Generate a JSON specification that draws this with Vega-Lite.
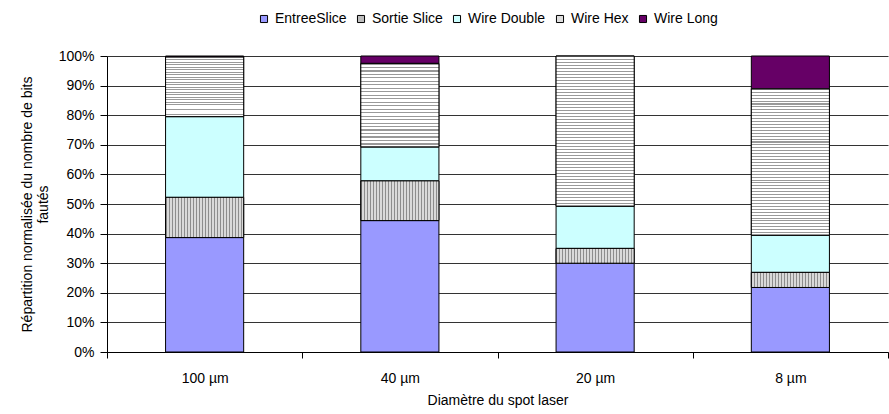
{
  "$schema": "https://vega.github.io/schema/vega-lite/v6.json",
  "width": 781,
  "height": 296,
  "padding": {"left": 20, "top": 12, "right": 0, "bottom": 5},
  "config": {
    "font": "Liberation Sans",
    "view": {"stroke": null},
    "axis": {"labelColor": "black", "titleColor": "black", "titleFontWeight": "normal", "labelFontSize": 14, "titleFontSize": 14, "domainColor": "black", "tickColor": "black"},
    "legend": {"labelColor": "black"}
  },
  "data": {
    "values": [
      {"cat": "100 µm", "series": "EntreeSlice", "v": 38.7},
      {"cat": "100 µm", "series": "Sortie Slice", "v": 13.6},
      {"cat": "100 µm", "series": "Wire Double", "v": 27.3},
      {"cat": "100 µm", "series": "Wire Hex", "v": 20.2},
      {"cat": "100 µm", "series": "Wire Long", "v": 0.3},
      {"cat": "40 µm", "series": "EntreeSlice", "v": 44.4},
      {"cat": "40 µm", "series": "Sortie Slice", "v": 13.4},
      {"cat": "40 µm", "series": "Wire Double", "v": 11.5},
      {"cat": "40 µm", "series": "Wire Hex", "v": 28.2},
      {"cat": "40 µm", "series": "Wire Long", "v": 2.5},
      {"cat": "20 µm", "series": "EntreeSlice", "v": 30.0},
      {"cat": "20 µm", "series": "Sortie Slice", "v": 5.0},
      {"cat": "20 µm", "series": "Wire Double", "v": 14.3},
      {"cat": "20 µm", "series": "Wire Hex", "v": 50.7},
      {"cat": "8 µm", "series": "EntreeSlice", "v": 21.8},
      {"cat": "8 µm", "series": "Sortie Slice", "v": 5.1},
      {"cat": "8 µm", "series": "Wire Double", "v": 12.6},
      {"cat": "8 µm", "series": "Wire Hex", "v": 49.4},
      {"cat": "8 µm", "series": "Wire Long", "v": 11.1}
    ]
  },
  "transform": [
    {"stack": "v", "groupby": ["cat"], "sort": [{"field": "series", "order": "ascending"}], "offset": "normalize", "as": ["y0", "y1"]}
  ],
  "encoding": {
    "x": {
      "field": "cat", "type": "nominal",
      "sort": ["100 µm", "40 µm", "20 µm", "8 µm"],
      "scale": {"paddingInner": 0, "paddingOuter": 0},
      "axis": {"title": "Diamètre du spot laser", "labelAngle": 0, "tickBand": "extent", "tickSize": 6, "labelPadding": 13, "titlePadding": 8, "grid": false}
    },
    "y": {
      "field": "y0", "type": "quantitative",
      "scale": {"domain": [0, 1]},
      "axis": {"title": ["Répartition normalisée du nombre de bits", "fautés"], "format": ".0%", "values": [0, 0.1, 0.2, 0.3, 0.4, 0.5, 0.6, 0.7, 0.8, 0.9, 1], "grid": true, "gridColor": "#333333", "tickSize": 7, "labelPadding": 6, "titlePadding": 8}
    },
    "y2": {"field": "y1"}
  },
  "layer": [
    {
      "mark": {"type": "bar", "width": {"band": 0.4}, "stroke": "black", "strokeWidth": 1},
      "encoding": {
        "color": {
          "field": "series", "type": "nominal",
          "scale": {"domain": ["EntreeSlice", "Sortie Slice", "Wire Double", "Wire Hex", "Wire Long"], "range": ["#9999ff", "#bdbdbd", "#ccffff", "#dddddd", "#660066"]},
          "legend": {"orient": "none", "legendX": 150, "legendY": -44, "direction": "horizontal", "title": null, "symbolType": "square", "symbolSize": 50, "symbolStrokeColor": "black", "symbolStrokeWidth": 1, "labelFontSize": 14, "labelOffset": 4, "columnPadding": 7, "symbolOpacity": 1}
        }
      }
    },
    {
      "transform": [{"filter": "datum.series === 'Sortie Slice'"}],
      "mark": {"type": "bar", "width": {"band": 0.4}, "stroke": "black", "strokeWidth": 1,
        "fill": {"gradient": "linear", "x1": 0, "y1": 0, "x2": 1, "y2": 0, "stops": [
          {"offset": 0, "color": "#8c8c8c"}, {"offset": 0.0128, "color": "#8c8c8c"}, {"offset": 0.0128, "color": "#d9d9d9"}, {"offset": 0.0385, "color": "#d9d9d9"},
          {"offset": 0.0385, "color": "#8c8c8c"}, {"offset": 0.0513, "color": "#8c8c8c"}, {"offset": 0.0513, "color": "#d9d9d9"}, {"offset": 0.0769, "color": "#d9d9d9"},
          {"offset": 0.0769, "color": "#8c8c8c"}, {"offset": 0.0897, "color": "#8c8c8c"}, {"offset": 0.0897, "color": "#d9d9d9"}, {"offset": 0.1154, "color": "#d9d9d9"},
          {"offset": 0.1154, "color": "#8c8c8c"}, {"offset": 0.1282, "color": "#8c8c8c"}, {"offset": 0.1282, "color": "#d9d9d9"}, {"offset": 0.1538, "color": "#d9d9d9"},
          {"offset": 0.1538, "color": "#8c8c8c"}, {"offset": 0.1666, "color": "#8c8c8c"}, {"offset": 0.1666, "color": "#d9d9d9"}, {"offset": 0.1923, "color": "#d9d9d9"},
          {"offset": 0.1923, "color": "#8c8c8c"}, {"offset": 0.2051, "color": "#8c8c8c"}, {"offset": 0.2051, "color": "#d9d9d9"}, {"offset": 0.2308, "color": "#d9d9d9"},
          {"offset": 0.2308, "color": "#8c8c8c"}, {"offset": 0.2436, "color": "#8c8c8c"}, {"offset": 0.2436, "color": "#d9d9d9"}, {"offset": 0.2692, "color": "#d9d9d9"},
          {"offset": 0.2692, "color": "#8c8c8c"}, {"offset": 0.282, "color": "#8c8c8c"}, {"offset": 0.282, "color": "#d9d9d9"}, {"offset": 0.3077, "color": "#d9d9d9"},
          {"offset": 0.3077, "color": "#8c8c8c"}, {"offset": 0.3205, "color": "#8c8c8c"}, {"offset": 0.3205, "color": "#d9d9d9"}, {"offset": 0.3462, "color": "#d9d9d9"},
          {"offset": 0.3462, "color": "#8c8c8c"}, {"offset": 0.359, "color": "#8c8c8c"}, {"offset": 0.359, "color": "#d9d9d9"}, {"offset": 0.3846, "color": "#d9d9d9"},
          {"offset": 0.3846, "color": "#8c8c8c"}, {"offset": 0.3974, "color": "#8c8c8c"}, {"offset": 0.3974, "color": "#d9d9d9"}, {"offset": 0.4231, "color": "#d9d9d9"},
          {"offset": 0.4231, "color": "#8c8c8c"}, {"offset": 0.4359, "color": "#8c8c8c"}, {"offset": 0.4359, "color": "#d9d9d9"}, {"offset": 0.4615, "color": "#d9d9d9"},
          {"offset": 0.4615, "color": "#8c8c8c"}, {"offset": 0.4743, "color": "#8c8c8c"}, {"offset": 0.4743, "color": "#d9d9d9"}, {"offset": 0.5, "color": "#d9d9d9"},
          {"offset": 0.5, "color": "#8c8c8c"}, {"offset": 0.5128, "color": "#8c8c8c"}, {"offset": 0.5128, "color": "#d9d9d9"}, {"offset": 0.5385, "color": "#d9d9d9"},
          {"offset": 0.5385, "color": "#8c8c8c"}, {"offset": 0.5513, "color": "#8c8c8c"}, {"offset": 0.5513, "color": "#d9d9d9"}, {"offset": 0.5769, "color": "#d9d9d9"},
          {"offset": 0.5769, "color": "#8c8c8c"}, {"offset": 0.5897, "color": "#8c8c8c"}, {"offset": 0.5897, "color": "#d9d9d9"}, {"offset": 0.6154, "color": "#d9d9d9"},
          {"offset": 0.6154, "color": "#8c8c8c"}, {"offset": 0.6282, "color": "#8c8c8c"}, {"offset": 0.6282, "color": "#d9d9d9"}, {"offset": 0.6538, "color": "#d9d9d9"},
          {"offset": 0.6538, "color": "#8c8c8c"}, {"offset": 0.6666, "color": "#8c8c8c"}, {"offset": 0.6666, "color": "#d9d9d9"}, {"offset": 0.6923, "color": "#d9d9d9"},
          {"offset": 0.6923, "color": "#8c8c8c"}, {"offset": 0.7051, "color": "#8c8c8c"}, {"offset": 0.7051, "color": "#d9d9d9"}, {"offset": 0.7308, "color": "#d9d9d9"},
          {"offset": 0.7308, "color": "#8c8c8c"}, {"offset": 0.7436, "color": "#8c8c8c"}, {"offset": 0.7436, "color": "#d9d9d9"}, {"offset": 0.7692, "color": "#d9d9d9"},
          {"offset": 0.7692, "color": "#8c8c8c"}, {"offset": 0.782, "color": "#8c8c8c"}, {"offset": 0.782, "color": "#d9d9d9"}, {"offset": 0.8077, "color": "#d9d9d9"},
          {"offset": 0.8077, "color": "#8c8c8c"}, {"offset": 0.8205, "color": "#8c8c8c"}, {"offset": 0.8205, "color": "#d9d9d9"}, {"offset": 0.8462, "color": "#d9d9d9"},
          {"offset": 0.8462, "color": "#8c8c8c"}, {"offset": 0.859, "color": "#8c8c8c"}, {"offset": 0.859, "color": "#d9d9d9"}, {"offset": 0.8846, "color": "#d9d9d9"},
          {"offset": 0.8846, "color": "#8c8c8c"}, {"offset": 0.8974, "color": "#8c8c8c"}, {"offset": 0.8974, "color": "#d9d9d9"}, {"offset": 0.9231, "color": "#d9d9d9"},
          {"offset": 0.9231, "color": "#8c8c8c"}, {"offset": 0.9359, "color": "#8c8c8c"}, {"offset": 0.9359, "color": "#d9d9d9"}, {"offset": 0.9615, "color": "#d9d9d9"},
          {"offset": 0.9615, "color": "#8c8c8c"}, {"offset": 0.9743, "color": "#8c8c8c"}, {"offset": 0.9743, "color": "#d9d9d9"}, {"offset": 1, "color": "#d9d9d9"}
        ]}
      }
    },
    {
      "transform": [{"filter": "datum.series === 'Wire Hex' && (datum.y1 - datum.y0) < 0.35"}],
      "mark": {"type": "bar", "width": {"band": 0.4}, "stroke": "black", "strokeWidth": 1,
        "fill": {"gradient": "linear", "x1": 0, "y1": 0, "x2": 0, "y2": 1, "stops": [
          {"offset": 0, "color": "#999999"}, {"offset": 0.0139, "color": "#999999"}, {"offset": 0.0139, "color": "#ffffff"}, {"offset": 0.0417, "color": "#ffffff"},
          {"offset": 0.0417, "color": "#999999"}, {"offset": 0.0556, "color": "#999999"}, {"offset": 0.0556, "color": "#ffffff"}, {"offset": 0.0833, "color": "#ffffff"},
          {"offset": 0.0833, "color": "#999999"}, {"offset": 0.0972, "color": "#999999"}, {"offset": 0.0972, "color": "#ffffff"}, {"offset": 0.125, "color": "#ffffff"},
          {"offset": 0.125, "color": "#999999"}, {"offset": 0.1389, "color": "#999999"}, {"offset": 0.1389, "color": "#ffffff"}, {"offset": 0.1667, "color": "#ffffff"},
          {"offset": 0.1667, "color": "#999999"}, {"offset": 0.1806, "color": "#999999"}, {"offset": 0.1806, "color": "#ffffff"}, {"offset": 0.2083, "color": "#ffffff"},
          {"offset": 0.2083, "color": "#999999"}, {"offset": 0.2222, "color": "#999999"}, {"offset": 0.2222, "color": "#ffffff"}, {"offset": 0.25, "color": "#ffffff"},
          {"offset": 0.25, "color": "#999999"}, {"offset": 0.2639, "color": "#999999"}, {"offset": 0.2639, "color": "#ffffff"}, {"offset": 0.2917, "color": "#ffffff"},
          {"offset": 0.2917, "color": "#999999"}, {"offset": 0.3056, "color": "#999999"}, {"offset": 0.3056, "color": "#ffffff"}, {"offset": 0.3333, "color": "#ffffff"},
          {"offset": 0.3333, "color": "#999999"}, {"offset": 0.3472, "color": "#999999"}, {"offset": 0.3472, "color": "#ffffff"}, {"offset": 0.375, "color": "#ffffff"},
          {"offset": 0.375, "color": "#999999"}, {"offset": 0.3889, "color": "#999999"}, {"offset": 0.3889, "color": "#ffffff"}, {"offset": 0.4167, "color": "#ffffff"},
          {"offset": 0.4167, "color": "#999999"}, {"offset": 0.4306, "color": "#999999"}, {"offset": 0.4306, "color": "#ffffff"}, {"offset": 0.4583, "color": "#ffffff"},
          {"offset": 0.4583, "color": "#999999"}, {"offset": 0.4722, "color": "#999999"}, {"offset": 0.4722, "color": "#ffffff"}, {"offset": 0.5, "color": "#ffffff"},
          {"offset": 0.5, "color": "#999999"}, {"offset": 0.5139, "color": "#999999"}, {"offset": 0.5139, "color": "#ffffff"}, {"offset": 0.5417, "color": "#ffffff"},
          {"offset": 0.5417, "color": "#999999"}, {"offset": 0.5556, "color": "#999999"}, {"offset": 0.5556, "color": "#ffffff"}, {"offset": 0.5833, "color": "#ffffff"},
          {"offset": 0.5833, "color": "#999999"}, {"offset": 0.5972, "color": "#999999"}, {"offset": 0.5972, "color": "#ffffff"}, {"offset": 0.625, "color": "#ffffff"},
          {"offset": 0.625, "color": "#999999"}, {"offset": 0.6389, "color": "#999999"}, {"offset": 0.6389, "color": "#ffffff"}, {"offset": 0.6667, "color": "#ffffff"},
          {"offset": 0.6667, "color": "#999999"}, {"offset": 0.6806, "color": "#999999"}, {"offset": 0.6806, "color": "#ffffff"}, {"offset": 0.7083, "color": "#ffffff"},
          {"offset": 0.7083, "color": "#999999"}, {"offset": 0.7222, "color": "#999999"}, {"offset": 0.7222, "color": "#ffffff"}, {"offset": 0.75, "color": "#ffffff"},
          {"offset": 0.75, "color": "#999999"}, {"offset": 0.7639, "color": "#999999"}, {"offset": 0.7639, "color": "#ffffff"}, {"offset": 0.7917, "color": "#ffffff"},
          {"offset": 0.7917, "color": "#999999"}, {"offset": 0.8056, "color": "#999999"}, {"offset": 0.8056, "color": "#ffffff"}, {"offset": 0.8333, "color": "#ffffff"},
          {"offset": 0.8333, "color": "#999999"}, {"offset": 0.8472, "color": "#999999"}, {"offset": 0.8472, "color": "#ffffff"}, {"offset": 0.875, "color": "#ffffff"},
          {"offset": 0.875, "color": "#999999"}, {"offset": 0.8889, "color": "#999999"}, {"offset": 0.8889, "color": "#ffffff"}, {"offset": 0.9167, "color": "#ffffff"},
          {"offset": 0.9167, "color": "#999999"}, {"offset": 0.9306, "color": "#999999"}, {"offset": 0.9306, "color": "#ffffff"}, {"offset": 0.9583, "color": "#ffffff"},
          {"offset": 0.9583, "color": "#999999"}, {"offset": 0.9722, "color": "#999999"}, {"offset": 0.9722, "color": "#ffffff"}, {"offset": 1, "color": "#ffffff"}
        ]}
      }
    },
    {
      "transform": [{"filter": "datum.series === 'Wire Hex' && (datum.y1 - datum.y0) >= 0.35"}],
      "mark": {"type": "bar", "width": {"band": 0.4}, "stroke": "black", "strokeWidth": 1,
        "fill": {"gradient": "linear", "x1": 0, "y1": 0, "x2": 0, "y2": 1, "stops": [
          {"offset": 0, "color": "#999999"}, {"offset": 0.007, "color": "#999999"}, {"offset": 0.007, "color": "#ffffff"}, {"offset": 0.02, "color": "#ffffff"},
          {"offset": 0.02, "color": "#999999"}, {"offset": 0.027, "color": "#999999"}, {"offset": 0.027, "color": "#ffffff"}, {"offset": 0.04, "color": "#ffffff"},
          {"offset": 0.04, "color": "#999999"}, {"offset": 0.047, "color": "#999999"}, {"offset": 0.047, "color": "#ffffff"}, {"offset": 0.06, "color": "#ffffff"},
          {"offset": 0.06, "color": "#999999"}, {"offset": 0.067, "color": "#999999"}, {"offset": 0.067, "color": "#ffffff"}, {"offset": 0.08, "color": "#ffffff"},
          {"offset": 0.08, "color": "#999999"}, {"offset": 0.087, "color": "#999999"}, {"offset": 0.087, "color": "#ffffff"}, {"offset": 0.1, "color": "#ffffff"},
          {"offset": 0.1, "color": "#999999"}, {"offset": 0.107, "color": "#999999"}, {"offset": 0.107, "color": "#ffffff"}, {"offset": 0.12, "color": "#ffffff"},
          {"offset": 0.12, "color": "#999999"}, {"offset": 0.127, "color": "#999999"}, {"offset": 0.127, "color": "#ffffff"}, {"offset": 0.14, "color": "#ffffff"},
          {"offset": 0.14, "color": "#999999"}, {"offset": 0.147, "color": "#999999"}, {"offset": 0.147, "color": "#ffffff"}, {"offset": 0.16, "color": "#ffffff"},
          {"offset": 0.16, "color": "#999999"}, {"offset": 0.167, "color": "#999999"}, {"offset": 0.167, "color": "#ffffff"}, {"offset": 0.18, "color": "#ffffff"},
          {"offset": 0.18, "color": "#999999"}, {"offset": 0.187, "color": "#999999"}, {"offset": 0.187, "color": "#ffffff"}, {"offset": 0.2, "color": "#ffffff"},
          {"offset": 0.2, "color": "#999999"}, {"offset": 0.207, "color": "#999999"}, {"offset": 0.207, "color": "#ffffff"}, {"offset": 0.22, "color": "#ffffff"},
          {"offset": 0.22, "color": "#999999"}, {"offset": 0.227, "color": "#999999"}, {"offset": 0.227, "color": "#ffffff"}, {"offset": 0.24, "color": "#ffffff"},
          {"offset": 0.24, "color": "#999999"}, {"offset": 0.247, "color": "#999999"}, {"offset": 0.247, "color": "#ffffff"}, {"offset": 0.26, "color": "#ffffff"},
          {"offset": 0.26, "color": "#999999"}, {"offset": 0.267, "color": "#999999"}, {"offset": 0.267, "color": "#ffffff"}, {"offset": 0.28, "color": "#ffffff"},
          {"offset": 0.28, "color": "#999999"}, {"offset": 0.287, "color": "#999999"}, {"offset": 0.287, "color": "#ffffff"}, {"offset": 0.3, "color": "#ffffff"},
          {"offset": 0.3, "color": "#999999"}, {"offset": 0.307, "color": "#999999"}, {"offset": 0.307, "color": "#ffffff"}, {"offset": 0.32, "color": "#ffffff"},
          {"offset": 0.32, "color": "#999999"}, {"offset": 0.327, "color": "#999999"}, {"offset": 0.327, "color": "#ffffff"}, {"offset": 0.34, "color": "#ffffff"},
          {"offset": 0.34, "color": "#999999"}, {"offset": 0.347, "color": "#999999"}, {"offset": 0.347, "color": "#ffffff"}, {"offset": 0.36, "color": "#ffffff"},
          {"offset": 0.36, "color": "#999999"}, {"offset": 0.367, "color": "#999999"}, {"offset": 0.367, "color": "#ffffff"}, {"offset": 0.38, "color": "#ffffff"},
          {"offset": 0.38, "color": "#999999"}, {"offset": 0.387, "color": "#999999"}, {"offset": 0.387, "color": "#ffffff"}, {"offset": 0.4, "color": "#ffffff"},
          {"offset": 0.4, "color": "#999999"}, {"offset": 0.407, "color": "#999999"}, {"offset": 0.407, "color": "#ffffff"}, {"offset": 0.42, "color": "#ffffff"},
          {"offset": 0.42, "color": "#999999"}, {"offset": 0.427, "color": "#999999"}, {"offset": 0.427, "color": "#ffffff"}, {"offset": 0.44, "color": "#ffffff"},
          {"offset": 0.44, "color": "#999999"}, {"offset": 0.447, "color": "#999999"}, {"offset": 0.447, "color": "#ffffff"}, {"offset": 0.46, "color": "#ffffff"},
          {"offset": 0.46, "color": "#999999"}, {"offset": 0.467, "color": "#999999"}, {"offset": 0.467, "color": "#ffffff"}, {"offset": 0.48, "color": "#ffffff"},
          {"offset": 0.48, "color": "#999999"}, {"offset": 0.487, "color": "#999999"}, {"offset": 0.487, "color": "#ffffff"}, {"offset": 0.5, "color": "#ffffff"},
          {"offset": 0.5, "color": "#999999"}, {"offset": 0.507, "color": "#999999"}, {"offset": 0.507, "color": "#ffffff"}, {"offset": 0.52, "color": "#ffffff"},
          {"offset": 0.52, "color": "#999999"}, {"offset": 0.527, "color": "#999999"}, {"offset": 0.527, "color": "#ffffff"}, {"offset": 0.54, "color": "#ffffff"},
          {"offset": 0.54, "color": "#999999"}, {"offset": 0.547, "color": "#999999"}, {"offset": 0.547, "color": "#ffffff"}, {"offset": 0.56, "color": "#ffffff"},
          {"offset": 0.56, "color": "#999999"}, {"offset": 0.567, "color": "#999999"}, {"offset": 0.567, "color": "#ffffff"}, {"offset": 0.58, "color": "#ffffff"},
          {"offset": 0.58, "color": "#999999"}, {"offset": 0.587, "color": "#999999"}, {"offset": 0.587, "color": "#ffffff"}, {"offset": 0.6, "color": "#ffffff"},
          {"offset": 0.6, "color": "#999999"}, {"offset": 0.607, "color": "#999999"}, {"offset": 0.607, "color": "#ffffff"}, {"offset": 0.62, "color": "#ffffff"},
          {"offset": 0.62, "color": "#999999"}, {"offset": 0.627, "color": "#999999"}, {"offset": 0.627, "color": "#ffffff"}, {"offset": 0.64, "color": "#ffffff"},
          {"offset": 0.64, "color": "#999999"}, {"offset": 0.647, "color": "#999999"}, {"offset": 0.647, "color": "#ffffff"}, {"offset": 0.66, "color": "#ffffff"},
          {"offset": 0.66, "color": "#999999"}, {"offset": 0.667, "color": "#999999"}, {"offset": 0.667, "color": "#ffffff"}, {"offset": 0.68, "color": "#ffffff"},
          {"offset": 0.68, "color": "#999999"}, {"offset": 0.687, "color": "#999999"}, {"offset": 0.687, "color": "#ffffff"}, {"offset": 0.7, "color": "#ffffff"},
          {"offset": 0.7, "color": "#999999"}, {"offset": 0.707, "color": "#999999"}, {"offset": 0.707, "color": "#ffffff"}, {"offset": 0.72, "color": "#ffffff"},
          {"offset": 0.72, "color": "#999999"}, {"offset": 0.727, "color": "#999999"}, {"offset": 0.727, "color": "#ffffff"}, {"offset": 0.74, "color": "#ffffff"},
          {"offset": 0.74, "color": "#999999"}, {"offset": 0.747, "color": "#999999"}, {"offset": 0.747, "color": "#ffffff"}, {"offset": 0.76, "color": "#ffffff"},
          {"offset": 0.76, "color": "#999999"}, {"offset": 0.767, "color": "#999999"}, {"offset": 0.767, "color": "#ffffff"}, {"offset": 0.78, "color": "#ffffff"},
          {"offset": 0.78, "color": "#999999"}, {"offset": 0.787, "color": "#999999"}, {"offset": 0.787, "color": "#ffffff"}, {"offset": 0.8, "color": "#ffffff"},
          {"offset": 0.8, "color": "#999999"}, {"offset": 0.807, "color": "#999999"}, {"offset": 0.807, "color": "#ffffff"}, {"offset": 0.82, "color": "#ffffff"},
          {"offset": 0.82, "color": "#999999"}, {"offset": 0.827, "color": "#999999"}, {"offset": 0.827, "color": "#ffffff"}, {"offset": 0.84, "color": "#ffffff"},
          {"offset": 0.84, "color": "#999999"}, {"offset": 0.847, "color": "#999999"}, {"offset": 0.847, "color": "#ffffff"}, {"offset": 0.86, "color": "#ffffff"},
          {"offset": 0.86, "color": "#999999"}, {"offset": 0.867, "color": "#999999"}, {"offset": 0.867, "color": "#ffffff"}, {"offset": 0.88, "color": "#ffffff"},
          {"offset": 0.88, "color": "#999999"}, {"offset": 0.887, "color": "#999999"}, {"offset": 0.887, "color": "#ffffff"}, {"offset": 0.9, "color": "#ffffff"},
          {"offset": 0.9, "color": "#999999"}, {"offset": 0.907, "color": "#999999"}, {"offset": 0.907, "color": "#ffffff"}, {"offset": 0.92, "color": "#ffffff"},
          {"offset": 0.92, "color": "#999999"}, {"offset": 0.927, "color": "#999999"}, {"offset": 0.927, "color": "#ffffff"}, {"offset": 0.94, "color": "#ffffff"},
          {"offset": 0.94, "color": "#999999"}, {"offset": 0.947, "color": "#999999"}, {"offset": 0.947, "color": "#ffffff"}, {"offset": 0.96, "color": "#ffffff"},
          {"offset": 0.96, "color": "#999999"}, {"offset": 0.967, "color": "#999999"}, {"offset": 0.967, "color": "#ffffff"}, {"offset": 0.98, "color": "#ffffff"},
          {"offset": 0.98, "color": "#999999"}, {"offset": 0.987, "color": "#999999"}, {"offset": 0.987, "color": "#ffffff"}, {"offset": 1, "color": "#ffffff"}
        ]}
      }
    }
  ]
}
